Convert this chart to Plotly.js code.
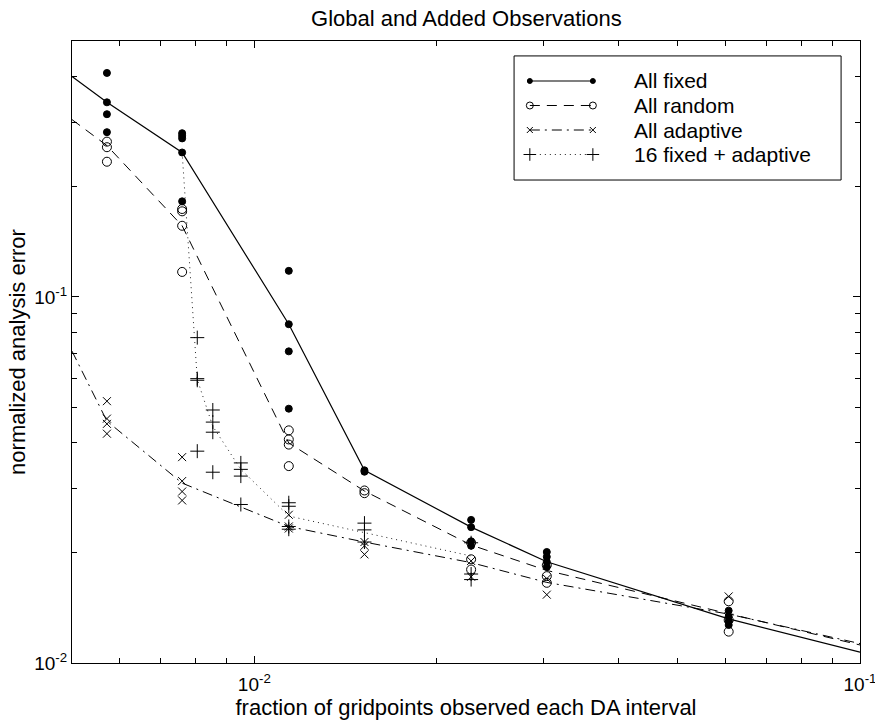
<!DOCTYPE html>
<html><head><meta charset="utf-8">
<script src="https://cdn.plot.ly/plotly-3.0.1.min.js"></script>
<style>body{margin:0;background:#fff}#chart{width:875px;height:722px}</style>
</head><body><div id="chart"></div>
<script>
// ---- series names ----
const seriesNames = ['All fixed', 'All random', 'All adaptive', '16 fixed + adaptive'];

// ---- connecting curves ----
const curveX = [0.005, 0.00571, 0.0076, 0.0114, 0.0152, 0.0228, 0.0304, 0.0607, 0.1];
const fixedCurveY = [0.400, 0.340, 0.248, 0.0842, 0.0336, 0.0235, 0.0189, 0.0132, 0.0107];
const randomCurveY = [0.305, 0.259, 0.1564, 0.0399, 0.0295, 0.0210, 0.0179, 0.0136, 0.0112];
const adaptiveCurveY = [0.0711, 0.0458, 0.0310, 0.0236, 0.0214, 0.0188, 0.0166, 0.0136, 0.0113];
const hybridCurveX = [0.0076, 0.00805, 0.00854, 0.0095, 0.0114, 0.0152, 0.0228];
const hybridCurveY = [0.248, 0.0595, 0.0443, 0.0338, 0.0252, 0.0227, 0.0196];

// ---- individual runs ----
const fixedX = [0.00571, 0.00571, 0.00571, 0.00571,
                0.0076, 0.0076, 0.0076, 0.0076, 0.0076,
                0.0114, 0.0114, 0.0114, 0.0114,
                0.0152, 0.0152,
                0.0228, 0.0228, 0.0228, 0.0228,
                0.0304, 0.0304, 0.0304, 0.0304,
                0.0607, 0.0607, 0.0607, 0.0607];
const fixedY = [0.409, 0.340, 0.3155, 0.2818,
                0.280, 0.2755, 0.271, 0.248, 0.1824,
                0.1178, 0.0842, 0.0710, 0.0495,
                0.0336, 0.0333,
                0.0246, 0.0235, 0.0215, 0.0209,
                0.0201, 0.0195, 0.0189, 0.0183,
                0.0139, 0.0134, 0.0130, 0.0127];

const randomX = [0.00571, 0.00571, 0.00571,
                 0.0076, 0.0076, 0.0076, 0.0076,
                 0.0114, 0.0114, 0.0114, 0.0114,
                 0.0152, 0.0152,
                 0.0228, 0.0228, 0.0228,
                 0.0304, 0.0304, 0.0304,
                 0.0607, 0.0607, 0.0607];
const randomY = [0.2655, 0.2564, 0.234,
                 0.1738, 0.1713, 0.1564, 0.117,
                 0.0432, 0.0408, 0.0395, 0.0345,
                 0.0296, 0.0291,
                 0.0213, 0.0192, 0.0180,
                 0.0185, 0.01727, 0.01656,
                 0.01474, 0.0131, 0.01218];

const adaptiveX = [0.00571, 0.00571, 0.00571, 0.00571,
                   0.0076, 0.0076, 0.0076, 0.0076,
                   0.0114, 0.0114, 0.0114,
                   0.0152, 0.0152, 0.0152,
                   0.0228, 0.0228,
                   0.0304, 0.0304,
                   0.0607, 0.0607];
const adaptiveY = [0.0519, 0.0465, 0.0450, 0.0423,
                   0.0365, 0.0314, 0.0294, 0.0278,
                   0.0254, 0.0236, 0.0233,
                   0.0214, 0.0209, 0.0198,
                   0.0190, 0.0172,
                   0.0170, 0.01537,
                   0.0152, 0.0133];

const hybridX = [0.00805, 0.00805, 0.00805, 0.00805,
                 0.00854, 0.00854, 0.00854, 0.00854,
                 0.0095, 0.0095, 0.0095, 0.0095,
                 0.0114, 0.0114, 0.0114, 0.0114,
                 0.0152, 0.0152, 0.0152,
                 0.0228, 0.0228, 0.0228];
const hybridY = [0.0774, 0.0598, 0.0592, 0.0379,
                 0.0491, 0.0455, 0.0427, 0.0332,
                 0.0352, 0.0338, 0.0324, 0.0271,
                 0.0274, 0.0268, 0.0236, 0.0232,
                 0.0241, 0.0231, 0.0214,
                 0.0213, 0.0175, 0.0169];

// ---- axis ticks ----
const xMajorTicks = [0.01, 0.1];
const xMajorText = ['10<sup>-2</sup>', '10<sup>-1</sup>'];
const xMinorTicks = [0.005, 0.006, 0.007, 0.008, 0.009, 0.02, 0.03, 0.04, 0.05, 0.06, 0.07, 0.08, 0.09];
const yMajorTicks = [0.01, 0.1];
const yMajorText = ['10<sup>-2</sup>', '10<sup>-1</sup>'];
const yMinorTicks = [0.02, 0.03, 0.04, 0.05, 0.06, 0.07, 0.08, 0.09, 0.2, 0.3, 0.4, 0.5];

// ---- styles ----
const FONT = 'Liberation Sans, Arial, Helvetica, sans-serif';
const K = '#000';
const styles = [
  {line: {color: K, width: 1.2, dash: 'solid'}, sym: 'circle', size: 7, legSize: 5},
  {line: {color: K, width: 1, dash: '10px,7px'}, sym: 'circle-open', size: 9, legSize: 7},
  {line: {color: K, width: 1, dash: '10px,5px,2px,5px'}, sym: 'x-thin-open', size: 8, legSize: 6},
  {line: {color: '#222', width: 1, dash: '1px,4px'}, sym: 'cross-thin-open', size: 10, legSize: 9}
];
// legend box geometry (fractions of the plot area)
const LEG = {x0: 0.561, x1: 0.976, y0: 0.7765, y1: 0.976,
             lineX0: 0.581, lineX1: 0.661, textX: 0.712,
             rows: [0.9357, 0.8963, 0.8569, 0.8175]};

function marker(s, size) {
  return {symbol: s.sym, color: K, size: size, line: {width: 1, color: K}};
}

const curves = [[curveX, fixedCurveY], [curveX, randomCurveY], [curveX, adaptiveCurveY], [hybridCurveX, hybridCurveY]];
const samples = [[fixedX, fixedY], [randomX, randomY], [adaptiveX, adaptiveY], [hybridX, hybridY]];

const traces = [];
curves.forEach((c, i) => {
  traces.push({x: c[0], y: c[1], name: seriesNames[i], mode: 'lines', showlegend: false,
               line: styles[i].line, hoverinfo: 'skip'});
});
samples.forEach((c, i) => {
  traces.push({x: c[0], y: c[1], name: seriesNames[i], mode: 'markers', showlegend: false,
               marker: marker(styles[i], styles[i].size)});
});
// legend samples drawn on an invisible 0..1 overlay axis
seriesNames.forEach((n, i) => {
  traces.push({x: [LEG.lineX0, LEG.lineX1], y: [LEG.rows[i], LEG.rows[i]],
               xaxis: 'x2', yaxis: 'y2', mode: 'lines+markers', showlegend: false, hoverinfo: 'skip',
               line: styles[i].line, marker: marker(styles[i], styles[i].legSize)});
});

const annotations = seriesNames.map((n, i) => ({
  text: n, xref: 'paper', yref: 'paper', x: LEG.textX, y: LEG.rows[i],
  xanchor: 'left', yanchor: 'middle', showarrow: false, borderpad: 0,
  font: {family: FONT, size: 21, color: K}
}));

const axisCommon = {
  type: 'log', showgrid: false, zeroline: false, showline: true, linecolor: K, linewidth: 1,
  mirror: 'ticks', ticks: 'inside', ticklen: 7, tickcolor: K, tickwidth: 1,
  tickfont: {family: FONT, size: 19, color: K}, tickmode: 'array', ticklabeloverflow: 'allow'
};

const layout = {
  width: 875, height: 722,
  margin: {l: 72, r: 15, t: 41, b: 59},
  paper_bgcolor: '#fff', plot_bgcolor: '#fff',
  font: {family: FONT, color: K},
  showlegend: false,
  title: {text: 'Global and Added Observations', font: {family: FONT, size: 22, color: K},
          x: 0.533, xanchor: 'center', y: 0.975, yanchor: 'middle'},
  xaxis: Object.assign({}, axisCommon, {
    range: [Math.log10(0.005), Math.log10(0.1) + 1e-6],
    tickvals: xMajorTicks, ticktext: xMajorText, ticklabelstandoff: 4,
    minor: {tickmode: 'array', tickvals: xMinorTicks, ticks: 'inside', ticklen: 5, tickcolor: K, tickwidth: 1},
    title: {text: 'fraction of gridpoints observed each DA interval', font: {family: FONT, size: 22, color: K}, standoff: 0}
  }),
  yaxis: Object.assign({}, axisCommon, {
    range: [Math.log10(0.01) - 1e-6, Math.log10(0.5)],
    tickvals: yMajorTicks, ticktext: yMajorText,
    minor: {tickmode: 'array', tickvals: yMinorTicks, ticks: 'inside', ticklen: 5, tickcolor: K, tickwidth: 1},
    title: {text: 'normalized analysis error', font: {family: FONT, size: 22, color: K}, standoff: 2}
  }),
  xaxis2: {overlaying: 'x', anchor: 'y2', range: [0, 1], visible: false, showgrid: false, zeroline: false},
  yaxis2: {overlaying: 'y', anchor: 'x2', range: [0, 1], visible: false, showgrid: false, zeroline: false},
  shapes: [{type: 'rect', xref: 'paper', yref: 'paper', x0: LEG.x0, x1: LEG.x1, y0: LEG.y0, y1: LEG.y1,
            line: {color: K, width: 1}, fillcolor: '#fff', layer: 'below'}],
  annotations: annotations
};

Plotly.newPlot('chart', traces, layout, {displayModeBar: false, staticPlot: true});
</script>
</body></html>
